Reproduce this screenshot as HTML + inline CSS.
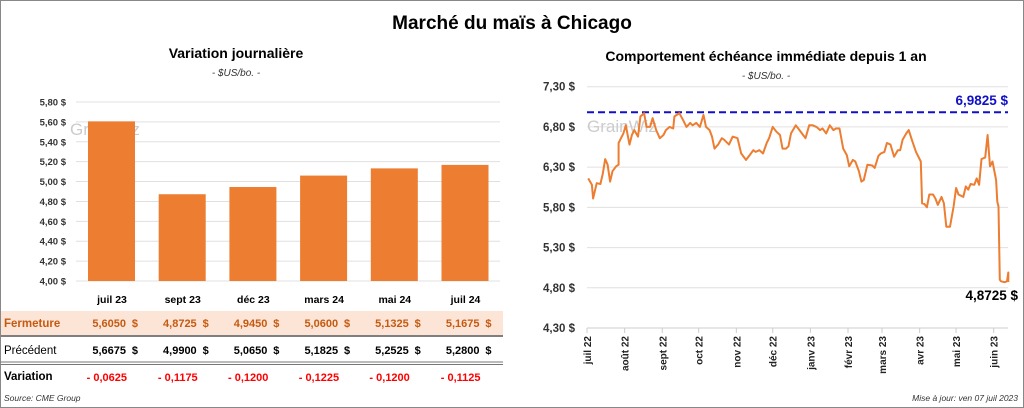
<!DOCTYPE html>
<html><head><meta charset="utf-8"><style>
body{margin:0;width:1024px;height:408px;background:#fff;font-family:"Liberation Sans",sans-serif;overflow:hidden}
svg{display:block}
</style></head><body>
<svg width="1024" height="408" font-family="Liberation Sans, sans-serif">
<rect x="0.5" y="0.5" width="1023" height="407" fill="#fff" stroke="#888"/>
<text x="512" y="29" text-anchor="middle" font-size="19" font-weight="bold">Marché du maïs à Chicago</text>
<text x="236" y="58" text-anchor="middle" font-size="14" font-weight="bold">Variation  journalière</text>
<text x="236" y="76" text-anchor="middle" font-size="10" font-style="italic" fill="#333">- $US/bo. -</text>
<text x="766" y="61" text-anchor="middle" font-size="14" font-weight="bold">Comportement  échéance immédiate depuis 1 an</text>
<text x="766" y="79" text-anchor="middle" font-size="10" font-style="italic" fill="#333">- $US/bo. -</text>
<g id="left"></g>
<g id="table"></g>
<g id="right"></g>
<text x="4" y="401" font-size="8.5" font-style="italic" fill="#333">Source: CME Group</text>
<text x="1018" y="401" text-anchor="end" font-size="8.5" font-style="italic" fill="#333">Mise à jour: ven 07 juil 2023</text>
</svg>
<script>
const NS="http://www.w3.org/2000/svg";
const barCats=["juil 23","sept 23","déc 23","mars 24","mai 24","juil 24"];
const closeVals=[5.6050,4.8725,4.9450,5.0600,5.1325,5.1675];
const prevVals=[5.6675,4.9900,5.0650,5.1825,5.2525,5.2800];
const barTicks=[4.0,4.2,4.4,4.6,4.8,5.0,5.2,5.4,5.6,5.8];
const lineDays=[1,4,5,8,11,13,15,17,19,21,24,26,26,28,30,32,35,37,39,42,44,47,49,52,54,57,60,63,65,68,71,72,76,79,82,85,87,90,93,96,98,101,103,105,108,111,113,117,120,124,127,131,134,137,139,142,145,148,150,153,156,159,161,164,166,168,172,175,178,180,183,186,189,192,194,197,200,203,205,208,211,214,216,219,221,224,226,228,231,235,237,240,242,245,247,250,253,256,258,260,263,265,268,271,275,276,278,280,282,285,287,289,292,294,296,299,302,304,306,310,312,314,316,319,321,323,325,328,330,332,334,337,338,339,340,341,344,346,347,347];
const lineVals=[6.16,6.08,5.91,6.10,6.09,6.22,6.40,6.33,6.12,6.25,6.31,6.33,6.60,6.66,6.72,6.82,6.58,6.70,6.76,6.68,6.93,6.97,6.80,6.80,6.91,6.76,6.66,6.70,6.76,6.80,6.78,6.93,6.97,6.89,6.80,6.85,6.82,6.85,6.80,6.95,6.80,6.76,6.68,6.53,6.58,6.66,6.64,6.58,6.68,6.66,6.47,6.39,6.45,6.51,6.49,6.51,6.47,6.60,6.66,6.80,6.74,6.70,6.53,6.53,6.56,6.72,6.82,6.76,6.70,6.66,6.82,6.82,6.80,6.76,6.78,6.72,6.82,6.76,6.78,6.78,6.53,6.45,6.31,6.39,6.37,6.25,6.12,6.14,6.33,6.32,6.29,6.44,6.47,6.49,6.60,6.58,6.43,6.51,6.51,6.64,6.72,6.76,6.62,6.49,6.37,5.85,5.84,5.80,5.96,5.96,5.91,5.83,5.93,5.85,5.56,5.56,5.81,6.04,5.96,5.93,6.06,6.02,6.09,6.08,6.16,6.08,6.40,6.42,6.70,6.31,6.37,6.14,5.87,5.81,4.90,4.88,4.87,4.88,4.99,4.8725];
const lineTicks=[4.3,4.8,5.3,5.8,6.3,6.8,7.3];
const monthLabels=["juil 22","août 22","sept 22","oct 22","nov 22","déc 22","janv 23","févr 23","mars 23","avr 23","mai 23","juin 23"];
const monthDays=[0,31,62,92,123,153,184,215,243,274,304,335];
const maxVal=6.9825;
const fmt=(v,d)=>v.toFixed(d).replace('.',',');
function mk(tag,attrs,parent,txt){const e=document.createElementNS(NS,tag);for(const k in attrs)e.setAttribute(k,attrs[k]);if(txt!==undefined)e.textContent=txt;parent.appendChild(e);return e;}
const L=document.getElementById('left');
const ly=v=>281-(v-4.0)/(5.8-4.0)*179;
const bandW=70.7,bx0=77;
barTicks.forEach(t=>{
 const g=mk('line',{x1:76,x2:500,y1:ly(t),y2:ly(t),stroke:'#e0e0e0'},L);
 
 const tx=mk('text',{x:66,y:ly(t)+3.5,'text-anchor':'end','font-size':9.5,'font-weight':'bold',fill:'#333'},L,fmt(t,2)+' $');
 
});
const wm=mk('text',{x:70,y:135,'font-size':17,fill:'#ccc'},L,'GrainWiz');

closeVals.forEach((v,i)=>{
 const x=bx0+i*bandW+11;
 const r=mk('rect',{x:x,y:ly(v),width:47,height:ly(4.0)-ly(v),fill:'#ed7d31'},L);
 
});
const T=document.getElementById('table');
const bg=mk('rect',{x:1,y:311,width:502,height:24,fill:'#fce4d6'},T);

const l1=mk('line',{x1:1,x2:503,y1:336,y2:336,stroke:'#555','stroke-width':1.5},T);

const l2=mk('line',{x1:1,x2:503,y1:362,y2:362,stroke:'#777','stroke-width':1},T);

const l3=mk('line',{x1:1,x2:503,y1:364.5,y2:364.5,stroke:'#777','stroke-width':1},T);

[['Fermeture',327,'#c55a11','bold'],['Précédent',354,'#000','normal'],['Variation',380,'#000','bold']].forEach(r=>{
 const t=mk('text',{x:4,y:r[1],'font-size':11.5,'font-weight':r[3],fill:r[2]},T,r[0]);
 
});
barCats.forEach((c,i)=>{
 const cx=bx0+i*bandW+35;
 const h=mk('text',{x:cx,y:303,'text-anchor':'middle','font-size':10.5,'font-weight':'bold'},T,c);
 
 const a=mk('text',{x:cx+14,y:327,'text-anchor':'end','font-size':11,'font-weight':'bold',fill:'#c55a11'},T,fmt(closeVals[i],4));
 
 const a2=mk('text',{x:cx+26,y:327,'text-anchor':'end','font-size':11,'font-weight':'bold',fill:'#c55a11'},T,'$');
 
 const b=mk('text',{x:cx+14,y:354,'text-anchor':'end','font-size':11,'font-weight':'bold'},T,fmt(prevVals[i],4));
 
 const b2=mk('text',{x:cx+26,y:354,'text-anchor':'end','font-size':11,'font-weight':'bold'},T,'$');
 
 const d=mk('text',{x:cx+15,y:381,'text-anchor':'end','font-size':11,'font-weight':'bold',fill:'#f00'},T,'- '+fmt(Math.abs(closeVals[i]-prevVals[i]),4));
 
});
const R=document.getElementById('right');
const ry=v=>328-(v-4.3)/3.0*241.3;
const rx=d=>587+d*1.214;
lineTicks.forEach(t=>{
 const g=mk('line',{x1:587,x2:1008,y1:ry(t),y2:ry(t),stroke:t==4.3?'#ccc':'#e0e0e0'},R);
 
 const tx=mk('text',{x:575,y:ry(t)+4,'text-anchor':'end','font-size':11.5,'font-weight':'bold',fill:'#333'},R,fmt(t,2)+' $');
 
});
monthLabels.forEach((m,i)=>{
 const x=rx(monthDays[i]);
 const tk=mk('line',{x1:x,x2:x,y1:328,y2:333,stroke:'#ccc'},R);
 
 const t=mk('text',{transform:`translate(${x+4},336) rotate(-90)`,'text-anchor':'end','font-size':10,'font-weight':'bold',fill:'#222'},R,m);
 
});
const wm2=mk('text',{x:587,y:132,'font-size':17,fill:'#ccc'},R,'GrainWiz');

const ml=mk('line',{x1:587,x2:1008,y1:ry(maxVal),y2:ry(maxVal),stroke:'#1010c8','stroke-width':2,'stroke-dasharray':'7,4'},R);

const mt=mk('text',{x:1008,y:ry(maxVal)-7,'text-anchor':'end','font-size':13.5,'font-weight':'bold',fill:'#1010c8'},R,fmt(maxVal,4)+' $');

const pts=lineDays.map((d,i)=>rx(d).toFixed(1)+','+ry(lineVals[i]).toFixed(1)).join(' ');
const pl=mk('polyline',{points:pts,fill:'none',stroke:'#ed7d31','stroke-width':2,'stroke-linejoin':'round'},R);

const lt=mk('text',{x:1018,y:300,'text-anchor':'end','font-size':13.5,'font-weight':'bold'},R,fmt(lineVals[lineVals.length-1],4)+' $');

</script>
</body></html>
